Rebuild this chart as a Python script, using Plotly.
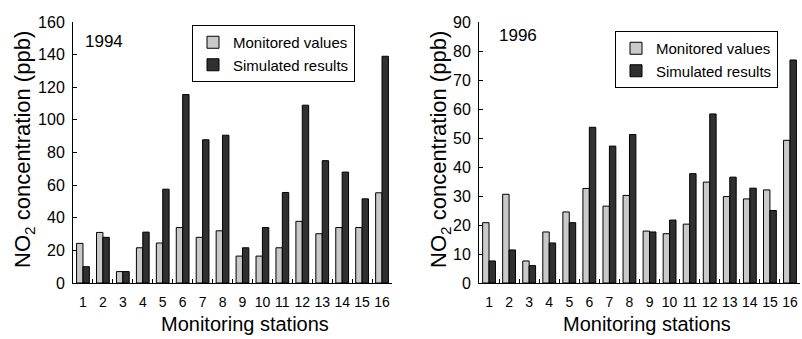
import plotly.graph_objects as go

stations = [str(i) for i in range(1, 17)]

mon_1994 = [24.3, 31, 7, 21.6, 24.5, 34, 28, 32, 16.5, 16.5, 21.6, 37.8, 30.2, 34, 34, 55.3]
sim_1994 = [10, 28, 7, 31.2, 57.5, 115.5, 87.8, 90.6, 21.6, 34, 55.5, 109, 75, 68, 51.6, 139]

mon_1996 = [20.8, 30.6, 7.6, 17.6, 24.5, 32.6, 26.5, 30.2, 17.9, 17, 20.3, 34.8, 29.8, 29, 32.1, 49.2]
sim_1996 = [7.6, 11.4, 6.0, 13.8, 20.8, 53.7, 47.2, 51.2, 17.6, 21.7, 37.7, 58.3, 36.5, 32.7, 25, 76.9]

LIGHT = "#c9c9c9"
DARK = "#303030"
FONT = "Liberation Sans, Arial, sans-serif"

fig = go.Figure()
fig.add_trace(go.Bar(x=stations, y=mon_1994, name="Monitored values", marker=dict(color=LIGHT, line=dict(color="black", width=1)), xaxis="x", yaxis="y", legend="legend"))
fig.add_trace(go.Bar(x=stations, y=sim_1994, name="Simulated results", marker=dict(color=DARK, line=dict(color="black", width=1)), xaxis="x", yaxis="y", legend="legend"))
fig.add_trace(go.Bar(x=stations, y=mon_1996, name="Monitored values", marker=dict(color=LIGHT, line=dict(color="black", width=1)), xaxis="x2", yaxis="y2", legend="legend2"))
fig.add_trace(go.Bar(x=stations, y=sim_1996, name="Simulated results", marker=dict(color=DARK, line=dict(color="black", width=1)), xaxis="x2", yaxis="y2", legend="legend2"))

W, H = 802, 339
ydom = [(H - 283) / H, (H - 22) / H]

xcommon = dict(type="category", showline=True, linecolor="black", linewidth=1,
               ticks="inside", tickson="boundaries", ticklen=4, tickcolor="black",
               tickfont=dict(family=FONT, size=14, color="black"), showgrid=False,
               zeroline=False, ticklabelstandoff=6, range=[-0.5, 15.5],
               tickangle=0, automargin=False)
ycommon = dict(showline=True, linecolor="black", linewidth=1, ticks="inside", ticklen=4,
               tickcolor="black", tickfont=dict(family=FONT, size=16, color="black"),
               showgrid=False, zeroline=False, ticklabelstandoff=4, automargin=False)

legcommon = dict(bgcolor="white", bordercolor="black", borderwidth=1,
                 font=dict(family=FONT, size=15, color="black"),
                 xanchor="left", yanchor="top", orientation="v", tracegroupgap=0)

fig.update_layout(
    template="none",
    width=W, height=H,
    margin=dict(l=0, r=0, t=0, b=0),
    paper_bgcolor="white", plot_bgcolor="white",
    barmode="group", bargap=0.36, bargroupgap=0,
    font=dict(family=FONT, color="black"),
    xaxis=dict(domain=[73 / W, 392 / W], anchor="y", **xcommon),
    yaxis=dict(domain=ydom, anchor="x", range=[0, 160], dtick=20, **ycommon),
    xaxis2=dict(domain=[479 / W, 800 / W], anchor="y2", **xcommon),
    yaxis2=dict(domain=ydom, anchor="x2", range=[0, 90], dtick=10, **ycommon),
    legend=dict(x=192 / W, y=1 - 25 / H, **legcommon),
    legend2=dict(x=615 / W, y=1 - 31 / H, **legcommon),
    showlegend=True,
)

def ann(text, x, y, size, angle=0):
    return dict(text=text, x=x / W, y=1 - y / H, xref="paper", yref="paper",
                xanchor="center", yanchor="middle", showarrow=False,
                textangle=angle, font=dict(family=FONT, size=size, color="black"))

annots = [
    ann("1994", 104, 41, 17),
    ann("1996", 518, 35, 17),
    ann("Monitoring stations", 245, 324, 20),
    ann("Monitoring stations", 647, 324, 20),
    ann("NO<sub>2</sub> concentration (ppb)", 24, 150, 22, -90),
    ann("NO<sub>2</sub> concentration (ppb)", 440, 150, 22, -90),
]
fig.update_layout(annotations=annots)

fig.write_html("out.html")
